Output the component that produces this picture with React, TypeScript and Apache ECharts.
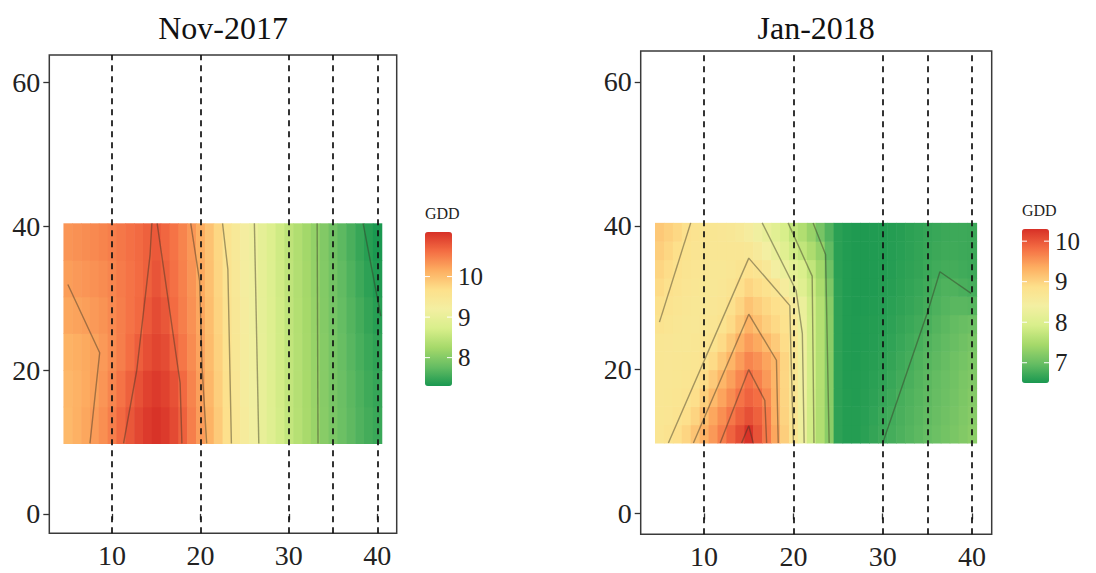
import { useEffect, useRef } from 'react';
import * as echarts from 'echarts';

// ---------- data ----------
const X_COLS = [5, 6, 7, 8, 9, 10, 11, 12, 13, 14, 15, 16, 17, 18, 19, 20, 21, 22, 23, 24, 25, 26, 27, 28, 29, 30, 31, 32, 33, 34, 35, 36, 37, 38, 39, 40];
const X_TICKS = [10, 20, 30, 40];
const Y_TICKS = [0, 20, 40, 60];
const DASH_X = [10, 20, 30, 35, 40];
const TITLES = ['Nov-2017', 'Jan-2018'];
const LEGEND_TITLE = 'GDD';
const NOV_LEGEND_TICKS = [10, 9, 8];
const JAN_LEGEND_TICKS = [10, 9, 8, 7];
const NOV_RANGE = [7.3, 11.1];
const JAN_RANGE = [6.5, 10.3];

// Nov-2017 rows (y centre of each row) and GDD values per x column
const NOV_Y_ROWS = [12.35, 17.45, 22.55, 27.65, 32.75, 37.85];
const NOV_VALUES = [
  [10.05, 10.12, 10.2, 10.28, 10.38, 10.5, 10.66, 10.8, 10.92, 11.02, 11.08, 11.02, 10.9, 10.72, 10.5, 10.28, 10.1, 9.88, 9.66, 9.48, 9.32, 9.16, 9.0, 8.84, 8.68, 8.52, 8.4, 8.28, 8.16, 8.03, 7.92, 7.82, 7.73, 7.64, 7.56, 7.5],
  [10.06, 10.11, 10.17, 10.24, 10.33, 10.45, 10.58, 10.72, 10.84, 10.96, 11.02, 10.96, 10.84, 10.66, 10.46, 10.26, 10.06, 9.85, 9.64, 9.47, 9.31, 9.15, 8.99, 8.83, 8.67, 8.51, 8.39, 8.27, 8.15, 8.02, 7.91, 7.81, 7.71, 7.62, 7.53, 7.47],
  [10.1, 10.14, 10.18, 10.23, 10.3, 10.4, 10.5, 10.62, 10.74, 10.86, 10.94, 10.88, 10.72, 10.56, 10.4, 10.22, 10.02, 9.82, 9.62, 9.46, 9.3, 9.14, 8.98, 8.82, 8.66, 8.5, 8.38, 8.26, 8.14, 8.01, 7.9, 7.79, 7.69, 7.59, 7.5, 7.43],
  [10.2, 10.23, 10.26, 10.3, 10.35, 10.42, 10.5, 10.58, 10.66, 10.78, 10.88, 10.8, 10.64, 10.5, 10.36, 10.2, 10.0, 9.8, 9.6, 9.44, 9.29, 9.13, 8.97, 8.81, 8.65, 8.49, 8.37, 8.25, 8.13, 8.0, 7.89, 7.77, 7.66, 7.56, 7.46, 7.38],
  [10.27, 10.3, 10.33, 10.36, 10.4, 10.45, 10.52, 10.58, 10.64, 10.72, 10.82, 10.72, 10.6, 10.48, 10.34, 10.18, 9.98, 9.78, 9.58, 9.42, 9.27, 9.12, 8.96, 8.8, 8.64, 8.48, 8.36, 8.24, 8.12, 7.99, 7.87, 7.75, 7.63, 7.52, 7.42, 7.34],
  [10.33, 10.36, 10.39, 10.42, 10.46, 10.5, 10.55, 10.6, 10.65, 10.72, 10.78, 10.68, 10.58, 10.46, 10.32, 10.15, 9.96, 9.76, 9.56, 9.4, 9.25, 9.1, 8.95, 8.79, 8.63, 8.47, 8.35, 8.23, 8.11, 7.98, 7.85, 7.72, 7.6, 7.48, 7.38, 7.3],
];

// Jan-2018 rows and values
const JAN_Y_ROWS = [11.08, 13.63, 16.18, 18.73, 21.28, 23.83, 26.38, 28.93, 31.48, 34.03, 36.58, 39.13];
const JAN_VALUES = [
  [8.72, 8.78, 8.86, 8.98, 9.14, 9.32, 9.5, 9.7, 9.9, 10.08, 10.28, 10.02, 9.75, 9.4, 9.05, 8.75, 8.3, 7.85, 7.55, 7.25, 6.62, 6.56, 6.56, 6.6, 6.66, 6.72, 6.77, 6.82, 6.87, 6.92, 6.97, 7.02, 7.07, 7.12, 7.18, 7.24],
  [8.7, 8.72, 8.78, 8.86, 8.99, 9.2, 9.4, 9.58, 9.75, 9.92, 10.05, 9.92, 9.72, 9.33, 9.0, 8.74, 8.3, 7.86, 7.55, 7.25, 6.62, 6.56, 6.56, 6.59, 6.64, 6.7, 6.75, 6.8, 6.85, 6.9, 6.95, 7.0, 7.05, 7.1, 7.16, 7.22],
  [8.68, 8.7, 8.73, 8.78, 8.88, 9.04, 9.24, 9.42, 9.6, 9.78, 9.9, 9.82, 9.62, 9.3, 8.98, 8.72, 8.32, 7.87, 7.56, 7.24, 6.62, 6.56, 6.55, 6.58, 6.62, 6.67, 6.72, 6.78, 6.83, 6.88, 6.93, 6.98, 7.03, 7.08, 7.14, 7.2],
  [8.68, 8.68, 8.7, 8.73, 8.79, 8.92, 9.08, 9.27, 9.45, 9.64, 9.8, 9.68, 9.5, 9.27, 8.97, 8.7, 8.33, 7.88, 7.57, 7.24, 6.62, 6.55, 6.55, 6.57, 6.6, 6.64, 6.69, 6.75, 6.8, 6.86, 6.91, 6.96, 7.01, 7.06, 7.12, 7.17],
  [8.68, 8.67, 8.68, 8.7, 8.73, 8.78, 8.92, 9.1, 9.28, 9.48, 9.65, 9.56, 9.42, 9.27, 8.98, 8.7, 8.3, 7.88, 7.57, 7.24, 6.62, 6.55, 6.54, 6.56, 6.58, 6.62, 6.66, 6.72, 6.77, 6.83, 6.88, 6.93, 6.98, 7.04, 7.09, 7.14],
  [8.68, 8.67, 8.66, 8.66, 8.68, 8.72, 8.79, 8.92, 9.1, 9.32, 9.48, 9.38, 9.24, 9.08, 8.9, 8.68, 8.3, 7.88, 7.57, 7.24, 6.62, 6.55, 6.54, 6.55, 6.57, 6.6, 6.64, 6.69, 6.74, 6.79, 6.85, 6.9, 6.95, 7.0, 7.05, 7.1],
  [8.78, 8.73, 8.69, 8.66, 8.65, 8.67, 8.71, 8.79, 8.92, 9.1, 9.3, 9.18, 9.05, 8.94, 8.82, 8.62, 8.28, 7.88, 7.57, 7.24, 6.62, 6.55, 6.54, 6.55, 6.56, 6.58, 6.62, 6.66, 6.7, 6.75, 6.8, 6.86, 6.91, 6.96, 7.0, 7.03],
  [8.84, 8.78, 8.73, 8.69, 8.66, 8.65, 8.67, 8.72, 8.83, 8.98, 9.15, 9.05, 8.95, 8.86, 8.78, 8.55, 8.25, 7.87, 7.57, 7.23, 6.62, 6.55, 6.53, 6.54, 6.55, 6.57, 6.6, 6.63, 6.67, 6.71, 6.76, 6.82, 6.87, 6.9, 6.9, 6.88],
  [8.92, 8.84, 8.77, 8.72, 8.68, 8.66, 8.65, 8.67, 8.74, 8.86, 8.98, 8.9, 8.82, 8.72, 8.5, 8.25, 8.05, 7.8, 7.5, 7.15, 6.62, 6.55, 6.53, 6.53, 6.54, 6.56, 6.58, 6.61, 6.65, 6.69, 6.73, 6.79, 6.83, 6.83, 6.8, 6.77],
  [8.98, 8.9, 8.81, 8.75, 8.71, 8.68, 8.66, 8.66, 8.69, 8.75, 8.82, 8.75, 8.62, 8.42, 8.28, 8.12, 7.95, 7.7, 7.42, 7.05, 6.6, 6.55, 6.53, 6.53, 6.54, 6.55, 6.57, 6.6, 6.63, 6.66, 6.7, 6.74, 6.76, 6.76, 6.74, 6.72],
  [9.05, 8.96, 8.87, 8.79, 8.74, 8.7, 8.68, 8.68, 8.68, 8.68, 8.66, 8.55, 8.4, 8.24, 8.05, 7.85, 7.7, 7.52, 7.32, 6.95, 6.6, 6.55, 6.53, 6.53, 6.54, 6.55, 6.57, 6.59, 6.62, 6.65, 6.68, 6.71, 6.73, 6.73, 6.72, 6.71],
  [9.1, 9.03, 8.95, 8.84, 8.77, 8.73, 8.7, 8.67, 8.64, 8.58, 8.48, 8.35, 8.22, 8.08, 7.92, 7.7, 7.55, 7.35, 7.1, 6.85, 6.6, 6.55, 6.53, 6.53, 6.54, 6.55, 6.56, 6.58, 6.61, 6.64, 6.67, 6.69, 6.71, 6.72, 6.72, 6.71],
];

// contour lines: [x, y] points
const NOV_CONTOURS = [
  [[5.0, 31.9], [8.6, 22.4], [7.5, 9.8]],
  [[14.5, 40.4], [14.3, 36], [12.8, 20], [11.3, 9.8]],
  [[15.1, 40.4], [17.7, 18.2], [17.9, 9.8]],
  [[18.9, 40.4], [19.9, 32.4], [20.2, 20], [20.7, 9.8]],
  [[22.5, 40.4], [23.1, 34], [23.5, 9.8]],
  [[26.1, 40.4], [26.6, 9.8]],
  [[33.2, 40.4], [33.3, 9.8]],
  [[38.4, 40.4], [40.4, 27.5]],
];
const JAN_CONTOURS = [
  [[5.0, 26.6], [8.5, 40.4]],
  [[6.0, 9.8], [15.0, 35.5], [19.6, 28.9], [19.7, 23.4], [20.0, 9.8]],
  [[8.8, 9.8], [15.0, 27.7], [18.1, 21.3], [18.3, 9.8]],
  [[11.8, 9.8], [15.0, 20.0], [16.8, 15.7], [17.0, 9.8]],
  [[14.2, 9.8], [15.0, 12.2], [15.5, 9.8]],
  [[16.5, 40.4], [20.3, 31], [21.0, 25], [21.2, 9.8]],
  [[19.4, 40.4], [22.1, 33], [22.3, 9.8]],
  [[22.2, 40.4], [23.6, 36], [24.0, 9.8]],
  [[30.0, 9.8], [35.1, 28.3], [36.4, 33.6], [39.9, 30.6]],
];

// ---------- styling ----------
const RAMP = ['#1a9850', '#66bd63', '#a6d96a', '#d9ef8b', '#f3efa2', '#fde08b', '#fdae61', '#f46d43', '#d73027'];
const SERIF = "'Liberation Serif', 'Times New Roman', serif";

const PANELS = [
  { grid: { left: 49.3, top: 55, width: 347.4, height: 478.3 }, xMin: 2.9, xMax: 42.2, yMin: -2.7, yMax: 63.8, halfH: 2.55,
    legend: { left: 425, top: 232, width: 27, height: 154 } },
  { grid: { left: 640.7, top: 51, width: 351, height: 483.3 }, xMin: 2.9, xMax: 42.2, yMin: -2.9, yMax: 64.3, halfH: 1.275,
    legend: { left: 1022, top: 229, width: 27, height: 154 } },
];

function buildCells(rows: number[], values: number[][]) {
  const out: number[][] = [];
  values.forEach((row, i) => row.forEach((v, j) => out.push([X_COLS[j], rows[i], v])));
  return out;
}

function cellRenderer(halfW: number, halfH: number) {
  return (_params: any, api: any) => {
    const x = api.value(0);
    const y = api.value(1);
    const a = api.coord([x - halfW, y + halfH]);
    const b = api.coord([x + halfW, y - halfH]);
    return {
      type: 'rect',
      shape: { x: a[0], y: a[1], width: b[0] - a[0] + 0.6, height: b[1] - a[1] + 0.6 },
      style: { fill: api.visual('color') },
    };
  };
}

function buildOption() {
  const ranges = [NOV_RANGE, JAN_RANGE];
  const ticks = [NOV_LEGEND_TICKS, JAN_LEGEND_TICKS];
  const cells = [buildCells(NOV_Y_ROWS, NOV_VALUES), buildCells(JAN_Y_ROWS, JAN_VALUES)];
  const contours = [NOV_CONTOURS, JAN_CONTOURS];

  const grids = PANELS.map((p) => ({
    ...p.grid,
    show: true,
    borderColor: '#3a3a3a',
    borderWidth: 1.5,
    backgroundColor: 'transparent',
  }));

  const xAxes = PANELS.map((p, i) => ({
    type: 'value',
    gridIndex: i,
    min: p.xMin,
    max: p.xMax,
    axisLine: { show: false },
    splitLine: { show: false },
    axisTick: { show: true, length: 6, customValues: X_TICKS, lineStyle: { color: '#333', width: 1.3 } },
    axisLabel: { customValues: X_TICKS, fontSize: 28, fontFamily: SERIF, color: '#222', margin: 8 },
  }));

  const yAxes = PANELS.map((p, i) => ({
    type: 'value',
    gridIndex: i,
    min: p.yMin,
    max: p.yMax,
    axisLine: { show: false },
    splitLine: { show: false },
    axisTick: { show: true, length: 6, customValues: Y_TICKS, lineStyle: { color: '#333', width: 1.3 } },
    axisLabel: { customValues: Y_TICKS, fontSize: 28, fontFamily: SERIF, color: '#222', margin: 9 },
  }));

  const series: any[] = PANELS.map((p, i) => ({
    type: 'custom',
    xAxisIndex: i,
    yAxisIndex: i,
    renderItem: cellRenderer(0.5, p.halfH),
    encode: { x: 0, y: 1 },
    data: cells[i],
    silent: true,
    z: 1,
  }));

  PANELS.forEach((_p, i) => {
    contours[i].forEach((c, k) => {
      const s: any = {
        type: 'line',
        xAxisIndex: i,
        yAxisIndex: i,
        data: c,
        symbol: 'none',
        showSymbol: false,
        silent: true,
        lineStyle: { color: 'rgba(55,50,35,0.45)', width: 1.4 },
        z: 3,
      };
      if (k === 0) {
        s.markLine = {
          silent: true,
          symbol: ['none', 'none'],
          label: { show: false },
          lineStyle: { type: [6, 5], color: '#111', width: 1.7 },
          data: DASH_X.map((v) => ({ xAxis: v })),
        };
      }
      series.push(s);
    });
  });

  const visualMaps = PANELS.map((p, i) => ({
    type: 'continuous',
    seriesIndex: i,
    dimension: 2,
    min: ranges[i][0],
    max: ranges[i][1],
    inRange: { color: RAMP },
    show: true,
    calculable: false,
    hoverLink: false,
    orient: 'vertical',
    left: p.legend.left,
    top: p.legend.top,
    itemWidth: p.legend.width,
    itemHeight: p.legend.height,
    padding: 0,
  }));

  const graphics: any[] = [];
  PANELS.forEach((p, i) => {
    graphics.push({
      type: 'text',
      x: p.grid.left + p.grid.width / 2,
      y: 28,
      style: {
        text: TITLES[i], fontSize: 32, fontFamily: SERIF, fill: '#111',
        align: 'center', verticalAlign: 'middle', textAlign: 'center', textVerticalAlign: 'middle',
      },
    });
    const L = p.legend;
    graphics.push({
      type: 'text',
      x: L.left,
      y: L.top - 19,
      style: {
        text: LEGEND_TITLE, fontSize: 16, fontFamily: SERIF, fill: '#222',
        align: 'left', verticalAlign: 'middle', textAlign: 'left', textVerticalAlign: 'middle',
      },
    });
    const [mn, mx] = ranges[i];
    ticks[i].forEach((t) => {
      const ty = L.top + ((mx - t) / (mx - mn)) * L.height;
      graphics.push({
        type: 'text',
        x: L.left + L.width + 6,
        y: ty,
        style: {
          text: String(t), fontSize: 25, fontFamily: SERIF, fill: '#222',
          align: 'left', verticalAlign: 'middle', textAlign: 'left', textVerticalAlign: 'middle',
        },
      });
      graphics.push({ type: 'line', shape: { x1: L.left, y1: ty, x2: L.left + 5, y2: ty }, style: { stroke: '#fff', lineWidth: 1 }, z: 100 });
      graphics.push({ type: 'line', shape: { x1: L.left + L.width - 5, y1: ty, x2: L.left + L.width, y2: ty }, style: { stroke: '#fff', lineWidth: 1 }, z: 100 });
    });
  });

  return {
    animation: false,
    backgroundColor: '#fff',
    grid: grids,
    xAxis: xAxes,
    yAxis: yAxes,
    visualMap: visualMaps,
    series,
    graphic: graphics,
  };
}

export default function App() {
  const ref = useRef<HTMLDivElement>(null);
  useEffect(() => {
    if (!ref.current) return;
    const chart = echarts.init(ref.current, null, { renderer: 'svg' });
    chart.setOption(buildOption() as any);
    return () => chart.dispose();
  }, []);
  return (
    <div
      ref={ref}
      style={{ position: 'fixed', left: 0, top: 0, width: 1096, height: 573, background: '#fff' }}
    />
  );
}
